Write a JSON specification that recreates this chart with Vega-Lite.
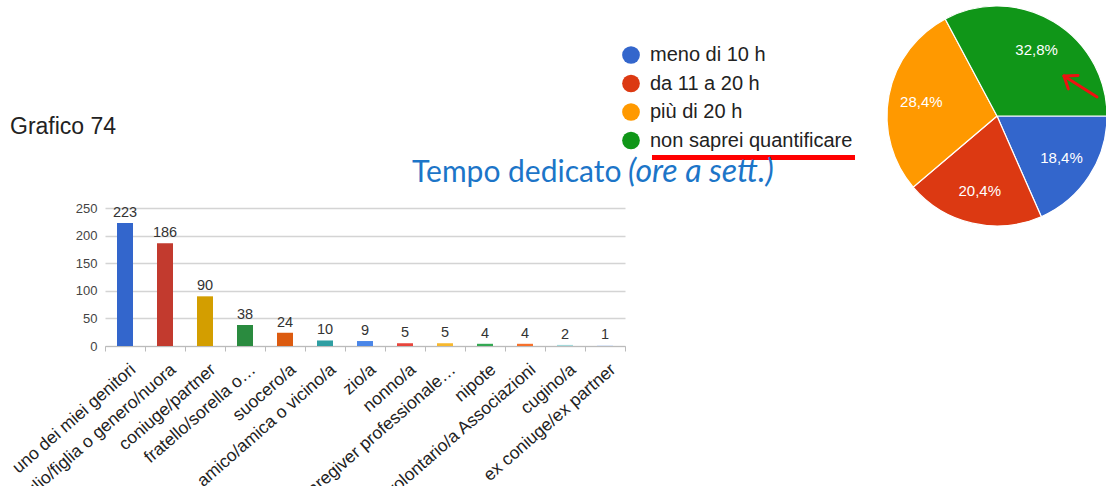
{
  "$schema": "https://vega.github.io/schema/vega-lite/v6.json",
  "background": "white",
  "padding": {"left": 8, "top": 3, "right": 0, "bottom": 0},
  "bounds": "flush",
  "spacing": 262,
  "resolve": {"scale": {"color": "independent", "x": "independent", "y": "independent"}, "legend": {"color": "independent"}},
  "config": {"view": {"stroke": null}, "font": "Liberation Sans"},
  "hconcat": [
    {
      "width": 520,
      "height": 340,
      "title": {"text": "Grafico 74", "anchor": "start", "frame": "group", "offset": 0, "dx": -95, "dy": 151, "baseline": "alphabetic", "fontSize": 23, "fontWeight": "normal", "font": "Liberation Sans", "color": "#222222"},
      "data": {"values": [
        {"cat": "uno dei miei genitori", "n": 223},
        {"cat": "figlio/figlia o genero/nuora", "n": 186},
        {"cat": "coniuge/partner", "n": 90},
        {"cat": "fratello/sorella o…", "n": 38},
        {"cat": "suocero/a", "n": 24},
        {"cat": "amico/amica o vicino/a", "n": 10},
        {"cat": "zio/a", "n": 9},
        {"cat": "nonno/a", "n": 5},
        {"cat": "Caregiver professionale…", "n": 5},
        {"cat": "nipote", "n": 4},
        {"cat": "volontario/a Associazioni", "n": 4},
        {"cat": "cugino/a", "n": 2},
        {"cat": "ex coniuge/ex partner", "n": 1}
      ]},
      "encoding": {
        "x": {"field": "cat", "type": "nominal", "sort": null, "scale": {"paddingInner": 0, "paddingOuter": 0},
          "axis": {"title": null, "labelAngle": -41, "labelAlign": "right", "labelBaseline": "middle", "labelFontSize": 17.5, "labelColor": "#222222", "labelLimit": 0, "labelPadding": 16, "labelOffset": 8, "labelOverlap": false, "tickBand": "extent", "tickSize": 5, "tickColor": "#bbbbbb", "domainColor": "#bbbbbb", "grid": false}},
        "y": {"field": "n", "type": "quantitative", "scale": {"domain": [0, 616], "nice": false},
          "axis": {"title": null, "values": [0, 50, 100, 150, 200, 250], "domain": false, "ticks": false, "labelFontSize": 13, "labelColor": "#444444", "labelPadding": 8, "gridColor": "#d4d4d4", "gridWidth": 1.3}}
      },
      "layer": [
        {"mark": {"type": "bar", "width": {"band": 0.4}},
         "encoding": {"color": {"field": "cat", "type": "nominal", "sort": null, "legend": null,
           "scale": {"domain": ["uno dei miei genitori", "figlio/figlia o genero/nuora", "coniuge/partner", "fratello/sorella o…", "suocero/a", "amico/amica o vicino/a", "zio/a", "nonno/a", "Caregiver professionale…", "nipote", "volontario/a Associazioni", "cugino/a", "ex coniuge/ex partner"],
             "range": ["#3366cc", "#c23a2e", "#d39e00", "#2a8b3f", "#dc5b10", "#2e9ea2", "#4a86e8", "#e8453c", "#f7b82e", "#34a853", "#f6712c", "#a3d9db", "#c9daf8"]}}}},
        {"mark": {"type": "text", "dy": -6, "baseline": "alphabetic", "fontSize": 14.5, "color": "#333333"},
         "encoding": {"text": {"field": "n", "type": "quantitative"}}}
      ]
    },
    {
      "width": 220,
      "height": 220,
      "data": {"values": [
        {"cat": "meno di 10 h", "pct": 18.4, "lbl": "18,4%", "ord": 1},
        {"cat": "da 11 a 20 h", "pct": 20.4, "lbl": "20,4%", "ord": 2},
        {"cat": "più di 20 h", "pct": 28.4, "lbl": "28,4%", "ord": 3},
        {"cat": "non saprei quantificare", "pct": 32.8, "lbl": "32,8%", "ord": 4}
      ]},
      "layer": [
        {"mark": {"type": "arc", "stroke": "#ffffff", "strokeWidth": 1.2},
         "encoding": {
           "theta": {"field": "pct", "type": "quantitative", "stack": true, "scale": {"range": [1.5707963, 7.8539816]}},
           "order": {"field": "ord", "type": "quantitative"},
           "color": {"field": "cat", "type": "nominal", "sort": null,
             "scale": {"domain": ["meno di 10 h", "da 11 a 20 h", "più di 20 h", "non saprei quantificare"], "range": ["#3366cc", "#dc3912", "#ff9900", "#109618"]},
             "legend": {"orient": "none", "legendX": -266, "legendY": 39, "title": null, "symbolType": "circle", "symbolSize": 314, "symbolStrokeWidth": 0, "labelFontSize": 20, "labelFont": "Liberation Sans", "labelColor": "#222222", "rowPadding": 8.5, "labelOffset": 9, "padding": 0, "labelLimit": 400}}
         }},
        {"mark": {"type": "text", "radius": 77, "fill": "#ffffff", "fontSize": 15, "font": "Liberation Sans"},
         "encoding": {
           "theta": {"field": "pct", "type": "quantitative", "stack": true, "scale": {"range": [1.5707963, 7.8539816]}},
           "order": {"field": "ord", "type": "quantitative"},
           "text": {"field": "lbl", "type": "nominal"}
         }},
        {"data": {"values": [{}]},
         "mark": {"type": "rule", "color": "#ff0000", "strokeWidth": 5},
         "encoding": {
           "x": {"datum": -3.1364, "type": "quantitative", "scale": {"domain": [-1, 1], "nice": false, "zero": false}, "axis": null},
           "x2": {"datum": -1.2909},
           "y": {"datum": -0.3773, "type": "quantitative", "scale": {"domain": [-1, 1], "nice": false, "zero": false}, "axis": null}
         }},
        {"data": {"values": [{}]},
         "mark": {"type": "rule", "color": "#ee1111", "strokeWidth": 3, "strokeCap": "round"},
         "encoding": {
           "x": {"datum": 0.9091, "type": "quantitative", "scale": {"domain": [-1, 1], "nice": false, "zero": false}, "axis": null},
           "x2": {"datum": 0.6091},
           "y": {"datum": 0.1727, "type": "quantitative", "scale": {"domain": [-1, 1], "nice": false, "zero": false}, "axis": null},
           "y2": {"datum": 0.3636}
         }},
        {"data": {"values": [{}]},
         "mark": {"type": "rule", "color": "#ee1111", "strokeWidth": 3, "strokeCap": "round"},
         "encoding": {
           "x": {"datum": 0.6091, "type": "quantitative", "scale": {"domain": [-1, 1], "nice": false, "zero": false}, "axis": null},
           "x2": {"datum": 0.6482},
           "y": {"datum": 0.3636, "type": "quantitative", "scale": {"domain": [-1, 1], "nice": false, "zero": false}, "axis": null},
           "y2": {"datum": 0.2464}
         }},
        {"data": {"values": [{}]},
         "mark": {"type": "rule", "color": "#ee1111", "strokeWidth": 3, "strokeCap": "round"},
         "encoding": {
           "x": {"datum": 0.6091, "type": "quantitative", "scale": {"domain": [-1, 1], "nice": false, "zero": false}, "axis": null},
           "x2": {"datum": 0.7364},
           "y": {"datum": 0.3636, "type": "quantitative", "scale": {"domain": [-1, 1], "nice": false, "zero": false}, "axis": null},
           "y2": {"datum": 0.3691}
         }},
        {"data": {"values": [{}]},
         "mark": {"type": "text", "text": "Tempo dedicato", "align": "left", "baseline": "alphabetic", "font": "Lato", "fontSize": 30, "color": "#1c75c8"},
         "encoding": {
           "x": {"datum": -5.3182, "type": "quantitative", "scale": {"domain": [-1, 1], "nice": false, "zero": false}, "axis": null},
           "y": {"datum": -0.6, "type": "quantitative", "scale": {"domain": [-1, 1], "nice": false, "zero": false}, "axis": null}
         }},
        {"data": {"values": [{}]},
         "mark": {"type": "text", "text": "(ore a sett.)", "align": "left", "baseline": "alphabetic", "font": "Lato", "fontSize": 32, "fontStyle": "italic", "color": "#1c75c8"},
         "encoding": {
           "x": {"datum": -3.3545, "type": "quantitative", "scale": {"domain": [-1, 1], "nice": false, "zero": false}, "axis": null},
           "y": {"datum": -0.6, "type": "quantitative", "scale": {"domain": [-1, 1], "nice": false, "zero": false}, "axis": null}
         }}
      ]
    }
  ]
}
